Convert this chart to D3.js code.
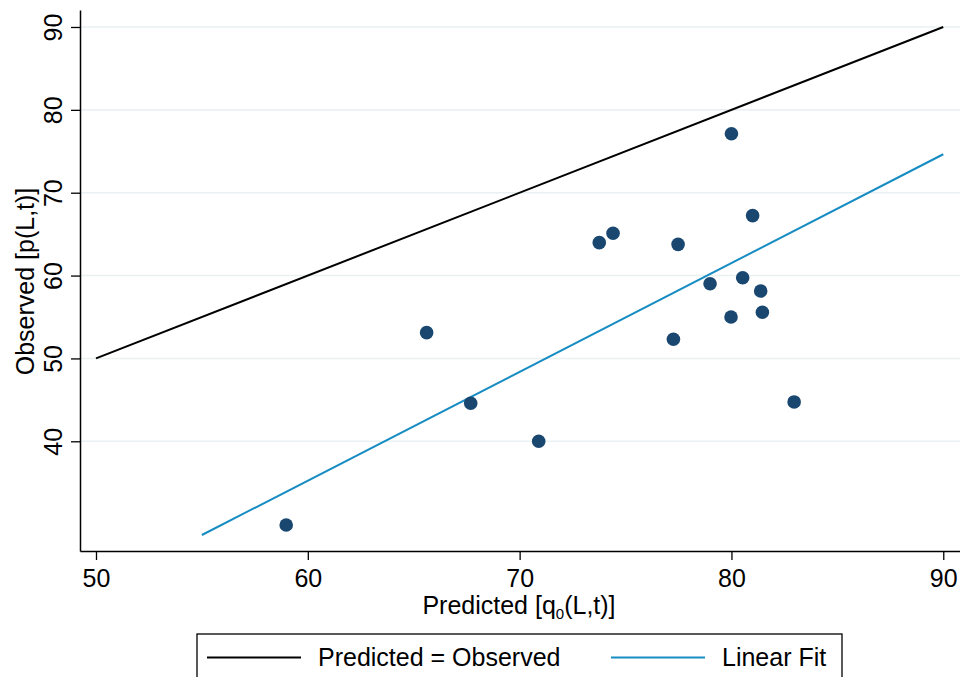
<!DOCTYPE html>
<html>
<head>
<meta charset="utf-8">
<script src="https://cdn.jsdelivr.net/npm/d3@7"></script>
<style>
  body { margin: 0; background: #fff; }
  svg { display: block; font-family: 'Liberation Sans', Arial, Helvetica, sans-serif; }
</style>
</head>
<body>
<svg id="chart" width="960" height="677"></svg>
<script>
// scatter points
const predicted = [80.0, 81.0, 74.41, 73.76, 77.48, 80.53, 78.99, 81.38, 81.46, 79.98, 77.26, 65.61, 67.69, 82.96, 70.90, 58.98];
const observed  = [77.12, 67.23, 65.10, 63.97, 63.77, 59.74, 59.02, 58.14, 55.57, 55.00, 52.31, 53.11, 44.59, 44.75, 40.0, 29.90];

// 45 degree line and fitted line (end points)
const equalX = [50, 90];
const equalY = [50, 90];
const fitX = [55, 90];
const fitY = [28.69, 74.64];

const xTicks = [50, 60, 70, 80, 90];
const yTicks = [40, 50, 60, 70, 80, 90];

const legendLabels = ['Predicted = Observed', 'Linear Fit'];

const svg = d3.select('#chart');

const plotLeft = 80, plotRight = 960, plotTop = 10, plotBottom = 551;

const x = d3.scaleLinear().domain([49.245, 90.79]).range([plotLeft, plotRight]);
const y = d3.scaleLinear().domain([26.76, 92.05]).range([plotBottom, plotTop]);

// gridlines
svg.append('g')
    .selectAll('line')
    .data(yTicks)
    .join('line')
    .attr('x1', plotLeft).attr('x2', plotRight)
    .attr('y1', d => y(d)).attr('y2', d => y(d))
    .attr('stroke', '#eaf1f3')
    .attr('stroke-width', 1.6);

// y axis
const yAxis = svg.append('g')
    .attr('transform', 'translate(' + plotLeft + ',0)')
    .call(d3.axisLeft(y).tickValues(yTicks).tickSize(9).tickSizeOuter(0));
yAxis.select('.domain').attr('stroke', '#000').attr('stroke-width', 1.5);
yAxis.selectAll('.tick line').attr('stroke', '#000').attr('stroke-width', 1.3);
yAxis.selectAll('.tick text')
    .attr('transform', 'rotate(-90)')
    .attr('x', 0).attr('y', -18).attr('dy', 0)
    .attr('text-anchor', 'middle')
    .attr('font-size', 25)
    .attr('font-family', null)
    .attr('fill', '#000');

// x axis
const xAxis = svg.append('g')
    .attr('transform', 'translate(0,' + plotBottom + ')')
    .call(d3.axisBottom(x).tickValues(xTicks).tickSize(9).tickSizeOuter(0));
xAxis.select('.domain').attr('stroke', '#000').attr('stroke-width', 1.5);
xAxis.selectAll('.tick line').attr('stroke', '#000').attr('stroke-width', 1.3);
xAxis.selectAll('.tick text')
    .attr('y', 36).attr('dy', 0)
    .attr('font-size', 25)
    .attr('font-family', null)
    .attr('fill', '#000');

// axis titles
svg.append('text')
    .attr('transform', 'translate(34,' + ((plotTop + plotBottom) / 2 + 1) + ') rotate(-90)')
    .attr('text-anchor', 'middle')
    .attr('font-size', 25)
    .text('Observed [p(L,t)]');

const xTitle = svg.append('text')
    .attr('x', 519)
    .attr('y', 614)
    .attr('text-anchor', 'middle')
    .attr('font-size', 25);
xTitle.append('tspan').text('Predicted [q');
xTitle.append('tspan').attr('font-size', 15).attr('dy', 5).text('0');
xTitle.append('tspan').attr('dy', -5).text('(L,t)]');

const line = d3.line()
    .x(d => x(d[0]))
    .y(d => y(d[1]));

// predicted = observed
svg.append('path')
    .datum(d3.zip(equalX, equalY))
    .attr('fill', 'none')
    .attr('stroke', '#000')
    .attr('stroke-width', 2)
    .attr('d', line);

// linear fit
svg.append('path')
    .datum(d3.zip(fitX, fitY))
    .attr('fill', 'none')
    .attr('stroke', '#168cc3')
    .attr('stroke-width', 2)
    .attr('d', line);

// points
svg.append('g')
    .selectAll('circle')
    .data(d3.zip(predicted, observed))
    .join('circle')
    .attr('cx', d => x(d[0]))
    .attr('cy', d => y(d[1]))
    .attr('r', 6.8)
    .attr('fill', '#1a476f');

// legend
const legend = svg.append('g');
legend.append('rect')
    .attr('x', 197).attr('y', 634)
    .attr('width', 645).attr('height', 60)
    .attr('fill', '#fff')
    .attr('stroke', '#000')
    .attr('stroke-width', 1.3);

const legendColors = ['#000', '#168cc3'];
const legendX = [207, 611];
legendLabels.forEach((label, i) => {
    legend.append('line')
        .attr('x1', legendX[i]).attr('x2', legendX[i] + 94)
        .attr('y1', 657.5).attr('y2', 657.5)
        .attr('stroke', legendColors[i])
        .attr('stroke-width', 2);
    legend.append('text')
        .attr('x', legendX[i] + 111)
        .attr('y', 666)
        .attr('font-size', 25)
        .text(label);
});
</script>
</body>
</html>
